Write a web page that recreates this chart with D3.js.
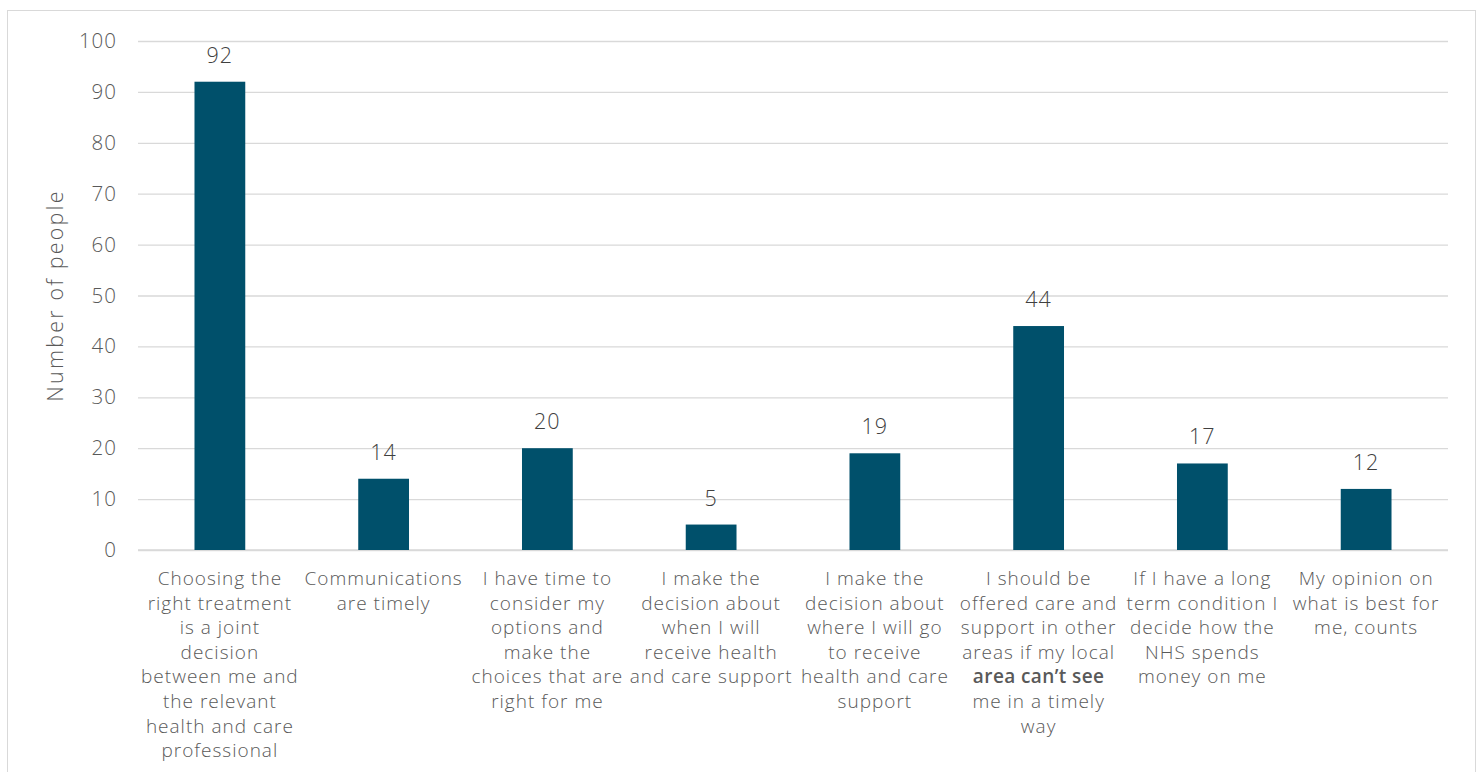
<!DOCTYPE html>
<html>
<head>
<meta charset="utf-8">
<script src="https://cdn.jsdelivr.net/npm/d3@7"></script>
<style>
  html, body { margin: 0; padding: 0; background: #fff; }
  svg { display: block; font-family: "Open Sans", sans-serif; font-weight: 300; }
</style>
</head>
<body>
<svg id="chart" width="1482" height="772"></svg>
<script>
// Survey responses: number of people choosing each statement
const categories = [
  "Choosing the right treatment is a joint decision between me and the relevant health and care professional",
  "Communications are timely",
  "I have time to consider my options and make the choices that are right for me",
  "I make the decision about when I will receive health and care support",
  "I make the decision about where I will go to receive health and care support",
  "I should be offered care and support in other areas if my local area can’t see me in a timely way",
  "If I have a long term condition I decide how the NHS spends money on me",
  "My opinion on what is best for me, counts"
];
const values = [92, 14, 20, 5, 19, 44, 17, 12];
const yTicks = [0, 10, 20, 30, 40, 50, 60, 70, 80, 90, 100];

// Category labels broken into lines; {b:true} marks bold runs
const labelLines = [
  ["Choosing the", "right treatment", "is a joint", "decision", "between me and", "the relevant", "health and care", "professional"],
  ["Communications", "are timely"],
  ["I have time to", "consider my", "options and", "make the", "choices that are", "right for me"],
  ["I make the", "decision about", "when I will", "receive health", "and care support"],
  ["I make the", "decision about", "where I will go", "to receive", "health and care", "support"],
  ["I should be", "offered care and", "support in other", "areas if my local", {b: true, t: "area can’t see"}, "me in a timely", "way"],
  ["If I have a long", "term condition I", "decide how the", "NHS spends", "money on me"],
  ["My opinion on", "what is best for", "me, counts"]
];

const svg = d3.select("#chart");
const textColor = "#595959";

// Chart frame
svg.append("rect")
  .attr("x", 7.5).attr("y", 10.5)
  .attr("width", 1468).attr("height", 800)
  .attr("fill", "none").attr("stroke", "#d9d9d9").attr("stroke-width", 1);

const plot = { left: 138, right: 1448, top: 41, bottom: 550 };

const x = d3.scaleBand()
  .domain(categories)
  .range([plot.left, plot.right])
  .paddingInner(0.69)
  .paddingOuter(0.345);

const y = d3.scaleLinear()
  .domain([0, 100])
  .range([plot.bottom, plot.top]);

// Gridlines and y tick labels
const yAxis = d3.axisLeft(y)
  .tickValues(yTicks)
  .tickSize(-(plot.right - plot.left))
  .tickPadding(21);

const gy = svg.append("g")
  .attr("transform", `translate(${plot.left},0)`)
  .call(yAxis);
gy.select(".domain").remove();
gy.selectAll(".tick line").attr("stroke", "#d9d9d9").attr("stroke-width", 1.3);
gy.selectAll(".tick text")
  .attr("fill", textColor)
  .attr("font-size", 20.5)
  .attr("letter-spacing", 1)
  .attr("font-family", "Open Sans, sans-serif")
  .attr("font-weight", 300);

// Baseline
svg.append("line")
  .attr("x1", plot.left).attr("x2", plot.right)
  .attr("y1", y(0)).attr("y2", y(0))
  .attr("stroke", "#d9d9d9").attr("stroke-width", 1.3);

// Bars
svg.append("g").selectAll("rect")
  .data(values)
  .join("rect")
  .attr("x", (d, i) => x(categories[i]))
  .attr("width", x.bandwidth())
  .attr("y", d => y(d))
  .attr("height", d => y(0) - y(d))
  .attr("fill", "#00506b");

// Value labels
svg.append("g").selectAll("text")
  .data(values)
  .join("text")
  .attr("x", (d, i) => x(categories[i]) + x.bandwidth() / 2)
  .attr("y", d => y(d) - 19)
  .attr("text-anchor", "middle")
  .attr("fill", "#404040")
  .attr("font-size", 21.5)
  .attr("letter-spacing", 1)
  .text(d => d);

// Category labels
const lineH = 24.6;
const cat = svg.append("g").selectAll("text")
  .data(labelLines)
  .join("text")
  .attr("text-anchor", "middle")
  .attr("fill", textColor)
  .attr("font-size", 19)
  .attr("letter-spacing", 1);

cat.each(function (lines, i) {
  const t = d3.select(this);
  const cx = x(categories[i]) + x.bandwidth() / 2;
  lines.forEach((ln, j) => {
    const bold = typeof ln === "object";
    t.append("tspan")
      .attr("x", cx)
      .attr("y", 585 + j * lineH)
      .attr("font-weight", bold ? 600 : 300)
      .attr("letter-spacing", bold ? 0.4 : 1)
      .text(bold ? ln.t : ln);
  });
});

// Y axis title
svg.append("text")
  .attr("transform", `translate(63,${(plot.top + plot.bottom) / 2}) rotate(-90)`)
  .attr("text-anchor", "middle")
  .attr("fill", textColor)
  .attr("font-size", 21.5)
  .attr("letter-spacing", 2.2)
  .text("Number of people");
</script>
</body>
</html>
